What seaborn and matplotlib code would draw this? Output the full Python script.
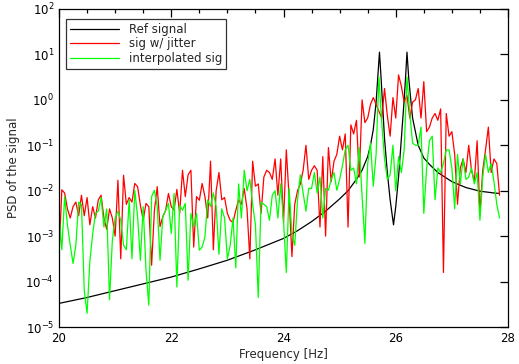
import numpy as np
import pandas as pd
import seaborn as sns
import matplotlib
matplotlib.use("Agg")
import matplotlib.pyplot as plt
from matplotlib.ticker import MultipleLocator, NullLocator, LogLocator

# frequency bins of the noisy spectra (Hz), 0.05 Hz apart
freq_start, freq_step, n_bins = 20.0, 0.05, 158

# log10(PSD), one row per 0.5 Hz
jitter_log = [
    -3.45, -1.98, -2.05, -2.4, -2.6, -2.35, -2.25, -2.55, -2.1, -2.55,
    -2.15, -2.75, -2.35, -2.6, -2.2, -2.1, -2.6, -2.85, -2.4, -2.6,
    -3.0, -1.77, -3.5, -1.66, -2.3, -2.15, -2.25, -1.84, -1.91, -2.32,
    -2.65, -2.28, -2.35, -3.64, -2.43, -1.91, -2.79, -2.57, -2.43, -2.06,
    -2.35, -2.43, -1.97, -2.5, -1.55, -2.13, -1.65, -1.55, -3.24, -2.13,
    -2.21, -1.84, -2.13, -2.6, -1.35, -3.3, -2.0, -1.6, -2.2, -2.15,
    -2.5, -2.65, -2.7, -2.43, -2.2, -2.3, -1.95, -2.4, -3.5, -1.35,
    -1.9, -1.85, -2.5, -1.7, -1.55, -1.6, -1.75, -1.3, -2.1, -1.3,
    -2.7, -1.1, -2.15, -3.45, -2.3, -2.0, -1.85, -1.55, -1.0, -1.75,
    -1.55, -1.45, -1.55, -2.8, -1.25, -3.0, -1.05, -1.8, -1.35, -1.2,
    -0.8, -1.1, -0.75, -2.8, -0.55, -0.75, -0.45, -1.7, 0.0, -0.5,
    -0.4, -0.1, 0.05, -0.1, -0.25, -0.4, 0.25, -0.35, -0.8, 0.05,
    -0.4, 0.55, 0.3, -0.05, 0.1, -0.4, -0.05, 0.0, 0.25, -0.4,
    0.4, -0.7, -0.6, -0.4, -0.3, -0.45, -0.2, -3.8, -0.3, -0.8,
    -0.7, -1.2, -2.3, -1.5, -1.3, -1.6, -1.0, -1.55, -1.8, -0.9,
    -2.5, -1.55, -1.1, -0.6, -1.6, -1.3, -1.4, -2.1,
]

interp_log = [
    -2.55, -3.3, -2.13, -2.75, -3.2, -3.6, -3.2, -2.25, -2.3, -4.2,
    -4.7, -3.55, -2.95, -2.5, -2.45, -2.15, -2.8, -2.4, -4.4, -3.1,
    -2.6, -2.45, -2.65, -3.2, -3.3, -2.2, -3.5, -1.99, -2.57, -3.53,
    -2.35, -3.75, -4.52, -2.13, -1.99, -2.35, -3.53, -2.57, -2.43, -2.28,
    -2.94, -2.06, -4.12, -2.32, -2.43, -2.28, -3.97, -2.5, -2.79, -2.5,
    -3.31, -3.24, -3.02, -2.2, -2.35, -2.05, -2.35, -3.4, -2.4, -2.6,
    -3.5, -3.2, -2.6, -3.7, -1.85, -2.6, -1.55, -2.0, -1.75, -2.3,
    -2.75, -4.35, -2.25, -2.3, -2.35, -2.65, -2.1, -2.0, -2.6, -1.85,
    -2.65, -3.8, -1.95, -2.95, -3.2, -2.2, -1.65, -2.05, -2.45, -1.95,
    -1.95, -1.6, -2.05, -1.7, -2.6, -1.95, -1.99, -1.75, -1.6, -1.99,
    -1.75, -1.45, -1.1, -1.0, -1.55, -1.5, -1.85, -1.05, -2.1, -3.16,
    -1.4, -0.95, -1.9, -1.2, 0.5, -0.5, -1.3, -1.75, -1.65, -1.0,
    -2.0, -1.25, -1.6, -1.1, 0.5, -0.3, -0.95, -1.0, -1.0, -0.6,
    -2.5, -1.5, -0.9, -0.8, -2.2, -1.5, -1.6, -1.4, -1.1, -1.1,
    -1.5, -2.4, -1.2, -1.85, -1.3, -1.75, -1.7, -1.5, -1.85, -1.6,
    -2.65, -1.7, -1.2, -1.6, -1.4, -1.8, -2.3, -2.6,
]

# reference spectrum, smooth, sampled where it bends
ref_freq = [20.0, 20.5, 21.0, 21.5, 22.0, 22.5, 23.0, 23.5, 24.0, 24.25,
            24.5, 24.75, 25.0, 25.15, 25.3, 25.4, 25.5, 25.55, 25.6, 25.65,
            25.68, 25.71, 25.74, 25.77, 25.8, 25.85, 25.9, 25.96, 26.0, 26.05,
            26.1, 26.15, 26.18, 26.2, 26.23, 26.26, 26.3, 26.4, 26.5, 26.6,
            26.75, 27.0, 27.25, 27.5, 27.75, 27.85]
ref_log = [-4.48, -4.35, -4.2, -4.05, -3.9, -3.72, -3.53, -3.3, -3.05, -2.88,
           -2.68, -2.45, -2.18, -2.0, -1.75, -1.55, -1.25, -1.0, -0.65, -0.05,
           0.5, 1.05, 0.45, -0.2, -0.85, -1.6, -2.2, -2.75, -2.35, -1.7,
           -0.85, 0.0, 0.6, 1.05, 0.5, 0.1, -0.4, -1.0, -1.28, -1.42,
           -1.6, -1.8, -1.93, -2.01, -2.05, -2.06]

freq = np.round(freq_start + freq_step * np.arange(n_bins), 2)
noisy = pd.DataFrame({"freq": freq,
                      "jitter": 10.0 ** np.array(jitter_log),
                      "interp": 10.0 ** np.array(interp_log)})
ref = pd.DataFrame({"freq": ref_freq, "psd": 10.0 ** np.array(ref_log)})

sns.set_style("white")
plt.rcParams["font.family"] = ["DejaVu Sans"]
plt.rcParams["mathtext.default"] = "regular"

fig = plt.figure(figsize=(5.19, 3.64), dpi=100)
ax = fig.add_axes([0.1137, 0.1016, 0.8651, 0.8737])

sns.lineplot(data=ref, x="freq", y="psd", color="black", lw=0.9,
             estimator=None, sort=False, label="Ref signal", ax=ax)
sns.lineplot(data=noisy, x="freq", y="jitter", color="#ff0000", lw=0.9,
             estimator=None, sort=False, label="sig w/ jitter", ax=ax)
sns.lineplot(data=noisy, x="freq", y="interp", color="#00ff00", lw=0.9,
             estimator=None, sort=False, label="interpolated sig", ax=ax)

ax.set_yscale("log")
ax.set_xlim(20, 28)
ax.set_ylim(1e-5, 1e2)
ax.xaxis.set_major_locator(MultipleLocator(2))
ax.xaxis.set_minor_locator(MultipleLocator(0.5))
ax.yaxis.set_major_locator(LogLocator(base=10, numticks=10))
ax.yaxis.set_minor_locator(NullLocator())
ax.tick_params(which="both", direction="in", top=True, right=True,
               colors="black", labelsize=8.5, width=0.9)
ax.tick_params(which="major", length=6)
ax.tick_params(which="minor", length=3)
for s in ax.spines.values():
    s.set_color("black")
    s.set_linewidth(0.9)

ax.set_xlabel("Frequency [Hz]", fontsize=8.5, labelpad=2)
ax.set_ylabel("PSD of the signal", fontsize=8.5, labelpad=4)

leg = ax.legend(loc="upper left", bbox_to_anchor=(0.016, 0.968),
                fontsize=8.5, frameon=True, fancybox=False, handlelength=4.2,
                handletextpad=0.8, borderpad=0.3, labelspacing=0.15,
                borderaxespad=0)
leg.get_frame().set_edgecolor("black")
leg.get_frame().set_linewidth(0.9)

plt.savefig("out.png", dpi=100)
